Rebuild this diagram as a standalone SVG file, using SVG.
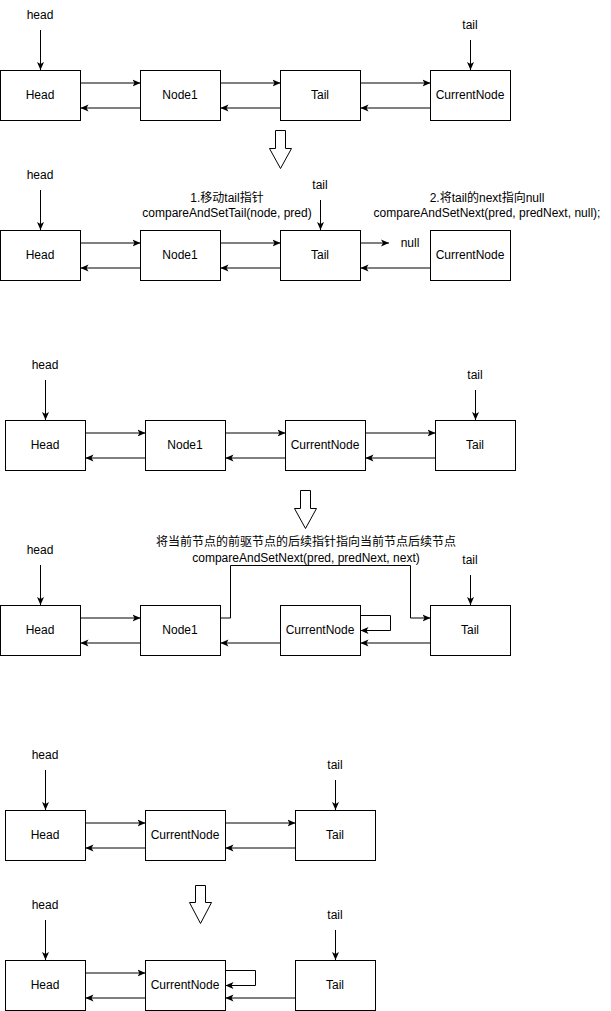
<svg xmlns="http://www.w3.org/2000/svg" width="611" height="1011" viewBox="0 0 611 1011">
<style>
.box{fill:#fff;stroke:#000;stroke-width:1}
.t{font-family:"Liberation Sans",Helvetica,Arial,"Noto Sans CJK SC",sans-serif;font-size:12px;fill:#000;text-anchor:middle}
.c{fill:none;stroke:#000;stroke-width:1}
.ca{fill:none;stroke:#000;stroke-width:1;marker-end:url(#a)}
.big{fill:#fff;stroke:#000;stroke-width:1}
</style>
<defs>
<marker id="a" viewBox="0 0 8 8" refX="8" refY="4" markerWidth="8" markerHeight="8" orient="auto" markerUnits="userSpaceOnUse">
<path d="M0,0.5 L8,4 L0,7.5 L2,4 Z" fill="#000"/>
</marker>
</defs>
<rect width="611" height="1011" fill="#fff"/>

<!-- Section 1 -->
<g id="s1-head-label"><text class="t" x="40" y="19">head</text></g>
<g id="s1-tail-label"><text class="t" x="470" y="29">tail</text></g>
<g id="s1-Head"><rect class="box" x="0.5" y="70.5" width="80" height="50"/><text class="t" x="40" y="99">Head</text></g>
<g id="s1-Node1"><rect class="box" x="140.5" y="70.5" width="80" height="50"/><text class="t" x="180" y="99">Node1</text></g>
<g id="s1-Tail"><rect class="box" x="280.5" y="70.5" width="80" height="50"/><text class="t" x="320" y="99">Tail</text></g>
<g id="s1-CurrentNode"><rect class="box" x="430.5" y="70.5" width="80" height="50"/><text class="t" x="470" y="99">CurrentNode</text></g>

<g id="arrow1"><path class="big" d="M275.5,130.5 H285.5 V148.5 H291.5 L280.5,168.5 L269.5,148.5 H275.5 Z"/></g>

<!-- Section 2 -->
<g id="s2-head-label"><text class="t" x="40" y="179">head</text></g>
<g id="s2-tail-label"><text class="t" x="320" y="189">tail</text></g>
<g id="s2-label1"><text class="t" x="227" y="202">1.移动tail指针</text><text class="t" x="227" y="217">compareAndSetTail(node, pred)</text></g>
<g id="s2-label2"><text class="t" x="487" y="202">2.将tail的next指向null</text><text class="t" x="487" y="217">compareAndSetNext(pred, predNext, null);</text></g>
<g id="s2-null"><text class="t" x="410" y="247">null</text></g>
<g id="s2-Head"><rect class="box" x="0.5" y="230.5" width="80" height="50"/><text class="t" x="40" y="259">Head</text></g>
<g id="s2-Node1"><rect class="box" x="140.5" y="230.5" width="80" height="50"/><text class="t" x="180" y="259">Node1</text></g>
<g id="s2-Tail"><rect class="box" x="280.5" y="230.5" width="80" height="50"/><text class="t" x="320" y="259">Tail</text></g>
<g id="s2-CurrentNode"><rect class="box" x="430.5" y="230.5" width="80" height="50"/><text class="t" x="470" y="259">CurrentNode</text></g>

<!-- Section 3 -->
<g id="s3-head-label"><text class="t" x="45" y="369">head</text></g>
<g id="s3-tail-label"><text class="t" x="475" y="379">tail</text></g>
<g id="s3-Head"><rect class="box" x="5.5" y="420.5" width="80" height="50"/><text class="t" x="45" y="449">Head</text></g>
<g id="s3-Node1"><rect class="box" x="145.5" y="420.5" width="80" height="50"/><text class="t" x="185" y="449">Node1</text></g>
<g id="s3-CurrentNode"><rect class="box" x="285.5" y="420.5" width="80" height="50"/><text class="t" x="325" y="449">CurrentNode</text></g>
<g id="s3-Tail"><rect class="box" x="435.5" y="420.5" width="80" height="50"/><text class="t" x="475" y="449">Tail</text></g>

<g id="arrow2"><path class="big" d="M300.5,490.5 H310.5 V508.5 H316.5 L305.5,528.5 L294.5,508.5 H300.5 Z"/></g>

<!-- Section 4 -->
<g id="s4-label"><text class="t" x="306" y="546">将当前节点的前驱节点的后续指针指向当前节点后续节点</text><text class="t" x="306" y="562">compareAndSetNext(pred, predNext, next)</text></g>
<g id="s4-head-label"><text class="t" x="40" y="554">head</text></g>
<g id="s4-tail-label"><text class="t" x="470" y="564">tail</text></g>
<g id="s4-Head"><rect class="box" x="0.5" y="605.5" width="80" height="50"/><text class="t" x="40" y="634">Head</text></g>
<g id="s4-Node1"><rect class="box" x="140.5" y="605.5" width="80" height="50"/><text class="t" x="180" y="634">Node1</text></g>
<g id="s4-CurrentNode"><rect class="box" x="280.5" y="605.5" width="80" height="50"/><text class="t" x="320" y="634">CurrentNode</text></g>
<g id="s4-Tail"><rect class="box" x="430.5" y="605.5" width="80" height="50"/><text class="t" x="470" y="634">Tail</text></g>

<!-- Section 5 -->
<g id="s5-head-label"><text class="t" x="45" y="759">head</text></g>
<g id="s5-tail-label"><text class="t" x="335" y="769">tail</text></g>
<g id="s5-Head"><rect class="box" x="5.5" y="810.5" width="80" height="50"/><text class="t" x="45" y="839">Head</text></g>
<g id="s5-CurrentNode"><rect class="box" x="145.5" y="810.5" width="80" height="50"/><text class="t" x="185" y="839">CurrentNode</text></g>
<g id="s5-Tail"><rect class="box" x="295.5" y="810.5" width="80" height="50"/><text class="t" x="335" y="839">Tail</text></g>

<g id="arrow3"><path class="big" d="M195.5,885.5 H205.5 V902.5 H211.5 L200.5,923.5 L189.5,902.5 H195.5 Z"/></g>

<!-- Section 6 -->
<g id="s6-head-label"><text class="t" x="45" y="909">head</text></g>
<g id="s6-tail-label"><text class="t" x="335" y="919">tail</text></g>
<g id="s6-Head"><rect class="box" x="5.5" y="960.5" width="80" height="50"/><text class="t" x="45" y="989">Head</text></g>
<g id="s6-CurrentNode"><rect class="box" x="145.5" y="960.5" width="80" height="50"/><text class="t" x="185" y="989">CurrentNode</text></g>
<g id="s6-Tail"><rect class="box" x="295.5" y="960.5" width="80" height="50"/><text class="t" x="335" y="989">Tail</text></g>

<g id="connectors">
<!-- s1 -->
<path class="ca" d="M40.5,30 V70"/>
<path class="ca" d="M470.5,40 V70"/>
<path class="ca" d="M80.5,83 H140.5"/>
<path class="ca" d="M140.5,108 H80.5"/>
<path class="ca" d="M220.5,83 H280.5"/>
<path class="ca" d="M280.5,108 H220.5"/>
<path class="ca" d="M360.5,83 H430.5"/>
<path class="ca" d="M430.5,108 H360.5"/>
<!-- s2 -->
<path class="ca" d="M40.5,190 V230"/>
<path class="ca" d="M320.5,200 V230"/>
<path class="ca" d="M80.5,243 H140.5"/>
<path class="ca" d="M140.5,268 H80.5"/>
<path class="ca" d="M220.5,243 H280.5"/>
<path class="ca" d="M280.5,268 H220.5"/>
<path class="ca" d="M360.5,243 H389"/>
<path class="ca" d="M430.5,268 H360.5"/>
<!-- s3 -->
<path class="ca" d="M45.5,380 V420"/>
<path class="ca" d="M475.5,390 V420"/>
<path class="ca" d="M85.5,433 H145.5"/>
<path class="ca" d="M145.5,458 H85.5"/>
<path class="ca" d="M225.5,433 H285.5"/>
<path class="ca" d="M285.5,458 H225.5"/>
<path class="ca" d="M365.5,433 H435.5"/>
<path class="ca" d="M435.5,458 H365.5"/>
<!-- s4 -->
<path class="ca" d="M40.5,565 V605"/>
<path class="ca" d="M470.5,575 V605"/>
<path class="ca" d="M80.5,618 H140.5"/>
<path class="ca" d="M140.5,643 H80.5"/>
<path class="ca" d="M220.5,618 H230.5 V565.5 H410.5 V618 H430.5"/>
<path class="ca" d="M280.5,643 H220.5"/>
<path class="ca" d="M360.5,615.5 H390.5 V630.5 H360.5"/>
<path class="ca" d="M430.5,643 H360.5"/>
<!-- s5 -->
<path class="ca" d="M45.5,770 V810"/>
<path class="ca" d="M335.5,780 V810"/>
<path class="ca" d="M85.5,823 H145.5"/>
<path class="ca" d="M145.5,848 H85.5"/>
<path class="ca" d="M225.5,823 H295.5"/>
<path class="ca" d="M295.5,848 H225.5"/>
<!-- s6 -->
<path class="ca" d="M45.5,920 V960"/>
<path class="ca" d="M335.5,930 V960"/>
<path class="ca" d="M85.5,973 H145.5"/>
<path class="ca" d="M145.5,998 H85.5"/>
<path class="ca" d="M225.5,970.5 H255.5 V985.5 H225.5"/>
<path class="ca" d="M295.5,998 H225.5"/>
</g>
</svg>
